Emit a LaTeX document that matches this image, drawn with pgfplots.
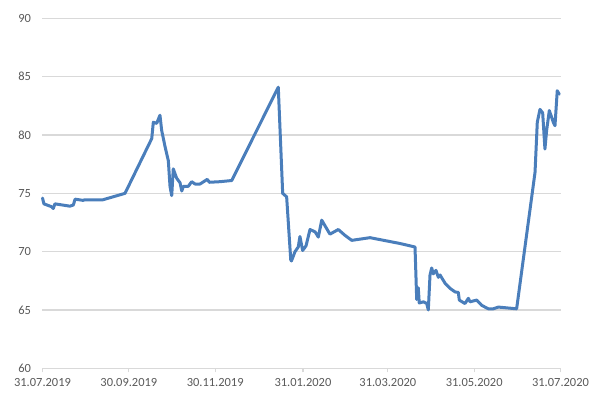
\documentclass[border=0pt]{standalone}
\usepackage{pgfplots}
\pgfplotsset{compat=1.18}
\usepackage{fontspec}
\setmainfont{Carlito}
\definecolor{lineblue}{HTML}{4A7EBB}
\definecolor{gridgray}{HTML}{D9D9D9}
\definecolor{labelgray}{HTML}{595959}
\begin{document}
\begin{tikzpicture}[x=1bp,y=1bp]
\useasboundingbox (-42.5bp,-41.7bp) rectangle (573.5bp,368.3bp);
\begin{axis}[
  at={(0,0)}, anchor=south west,
  scale only axis,
  width=518bp, height=349.9bp,
  xmin=0, xmax=366, ymin=60, ymax=90,
  ytick={60,65,...,90},
  xtick={0,61,122,184,244,305,366},
  xticklabels={31.07.2019,30.09.2019,30.11.2019,31.01.2020,31.03.2020,31.05.2020,31.07.2020},
  ymajorgrids,
  grid style={gridgray, line width=1.2bp},
  axis line style={draw=none},
  xtick pos=bottom,
  ytick pos=left,
  xtick style={gridgray, line width=1.2bp},
  tick align=outside,
  major tick length=4bp,
  ytick style={draw=none},
  tick label style={font=\fontsize{12.5}{15}\selectfont, text=labelgray},
  /pgf/number format/assume math mode=true,
  yticklabel style={xshift=-4bp},
  xticklabel style={yshift=-3bp},
  clip=false,
]
\addplot[lineblue, line width=3bp, line join=round, line cap=round] coordinates {
(0,74.6) (1,74.1) (6.5,73.85) (7.6,73.7) (8.8,74.1) (19.4,73.9) (21.8,74.0) (23,74.5)
(28.6,74.4) (30,74.45) (42.7,74.45) (58.3,75.0) (77.2,79.7) (78.3,81.1) (80.7,81.0)
(83.0,81.7) (84.2,80.4) (86.6,79.0) (88.9,77.8) (90.1,75.6) (91.3,74.8) (92.4,77.1)
(94.8,76.3) (97.2,75.9) (98.4,75.2) (99.5,75.6) (103,75.6) (105.4,76.0) (107.8,75.8)
(111.3,75.8) (116.4,76.2) (117.9,75.95) (125.4,76.0) (133.7,76.1) (166.6,84.1)
(169.7,75.0) (172.5,74.7) (175.4,69.3) (175.9,69.2) (178.4,70.0) (180.7,70.4) (181.9,71.3)
(183.8,70.1) (186.2,70.5) (189,71.9) (192.6,71.7) (194.9,71.25) (197.3,72.7) (203.1,71.5)
(209,71.9) (213.7,71.4) (218.5,70.97) (231.4,71.2) (252.6,70.7) (263.2,70.4) (264.4,65.9)
(265.5,66.9) (266.2,65.6) (269.1,65.7) (271.5,65.55) (272.6,65.0) (273.8,68.0) (275,68.6)
(276.1,68.1) (278,68.4) (279.7,67.8) (280.9,68.0) (284.4,67.3) (288,66.85) (291.5,66.55)
(293.8,66.5) (294.5,65.85) (298.5,65.55) (300.9,66.0) (302.1,65.7) (306.8,65.85)
(310.3,65.4) (315,65.1) (318.5,65.1) (322.1,65.25) (335,65.1) (348,76.8) (349.6,81.1)
(351.5,82.2) (353.4,81.9) (355,78.8) (356.2,80.4) (358.1,82.1) (360.9,81.1) (362.1,80.8)
(363.7,83.8) (365.1,83.5)
};
\end{axis}
\end{tikzpicture}
\end{document}
